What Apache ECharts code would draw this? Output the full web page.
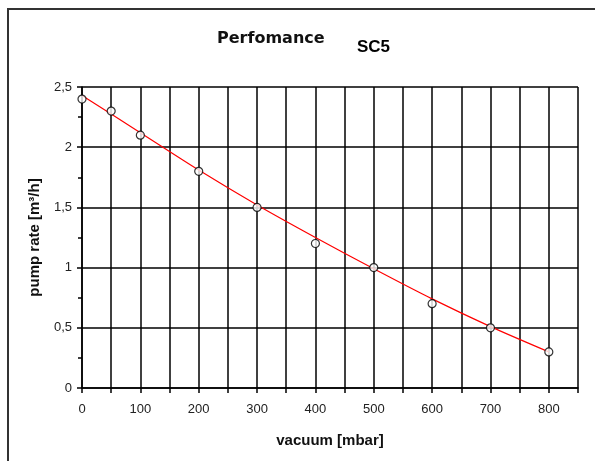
<!DOCTYPE html>
<html><head><meta charset="utf-8">
<script src="https://cdn.jsdelivr.net/npm/echarts@6/dist/echarts.min.js"></script>
<style>html,body{margin:0;padding:0;background:#fff}#c{width:595px;height:461px}</style>
</head><body><div id="c"></div>
<script>
const vacuum = [0, 50, 100, 200, 300, 400, 500, 600, 700, 800];
const pumpRate = [2.4, 2.3, 2.1, 1.8, 1.5, 1.2, 1.0, 0.7, 0.5, 0.3];
const trendX = [0, 100, 200, 300, 400, 500, 600, 700, 800];
const trendY = [2.43, 2.12, 1.81, 1.52, 1.25, 0.99, 0.74, 0.51, 0.3];

const font = 'Liberation Sans, Arial, sans-serif';
const chart = echarts.init(document.getElementById('c'), null, {renderer: 'canvas'});
chart.setOption({
  animation: false,
  backgroundColor: '#fff',
  graphic: [{
    type: 'rect', shape: {x: 8, y: 9, width: 700, height: 600},
    style: {fill: 'none', stroke: '#333', lineWidth: 2}, silent: true
  }],
  title: [
    {text: 'Perfomance', left: 212, top: 26, textStyle: {fontFamily: 'DejaVu Sans, sans-serif', fontSize: 16, fontWeight: 'bold', color: '#111'}},
    {text: 'SC5', left: 352, top: 34, textStyle: {fontFamily: font, fontSize: 17, fontWeight: 'bold', color: '#000'}}
  ],
  grid: {left: 82, right: 17, top: 87, bottom: 73},
  xAxis: {
    type: 'value', min: 0, max: 850, interval: 50,
    name: 'vacuum [mbar]', nameLocation: 'middle', nameGap: 45,
    nameTextStyle: {fontFamily: font, fontSize: 15, fontWeight: 'bold', color: '#111'},
    axisLine: {lineStyle: {color: '#000', width: 1.5}},
    axisTick: {show: true, length: 5, lineStyle: {color: '#000', width: 1.5}},
    axisLabel: {
      fontFamily: font, fontSize: 13, color: '#222', margin: 15,
      formatter: v => (v % 100 === 0 && v <= 800) ? String(v) : ''
    },
    splitLine: {show: true, lineStyle: {color: '#000', width: 1.5}}
  },
  yAxis: {
    type: 'value', min: 0, max: 2.5, interval: 0.5,
    name: 'pump rate [m³/h]', nameLocation: 'middle', nameGap: 40,
    nameTextStyle: {fontFamily: font, fontSize: 15, fontWeight: 'bold', color: '#111'},
    axisLine: {show: true, lineStyle: {color: '#000', width: 1.5}},
    axisTick: {show: true, length: 5, lineStyle: {color: '#000', width: 1.5}},
    minorTick: {show: true, splitNumber: 2, length: 4, lineStyle: {color: '#000', width: 1.5}},
    axisLabel: {
      fontFamily: font, fontSize: 13, color: '#222', margin: 10,
      formatter: v => String(v).replace('.', ',')
    },
    splitLine: {show: true, lineStyle: {color: '#000', width: 1.5}}
  },
  series: [
    {
      type: 'line', data: trendX.map((x, i) => [x, trendY[i]]),
      smooth: 0.3, symbol: 'none', z: 3,
      lineStyle: {color: '#ff0000', width: 1.2}
    },
    {
      type: 'scatter', data: vacuum.map((x, i) => [x, pumpRate[i]]),
      symbol: 'circle', symbolSize: 8, z: 4,
      itemStyle: {color: '#fff', borderColor: '#000', borderWidth: 1.2}
    }
  ]
});
</script></body></html>
